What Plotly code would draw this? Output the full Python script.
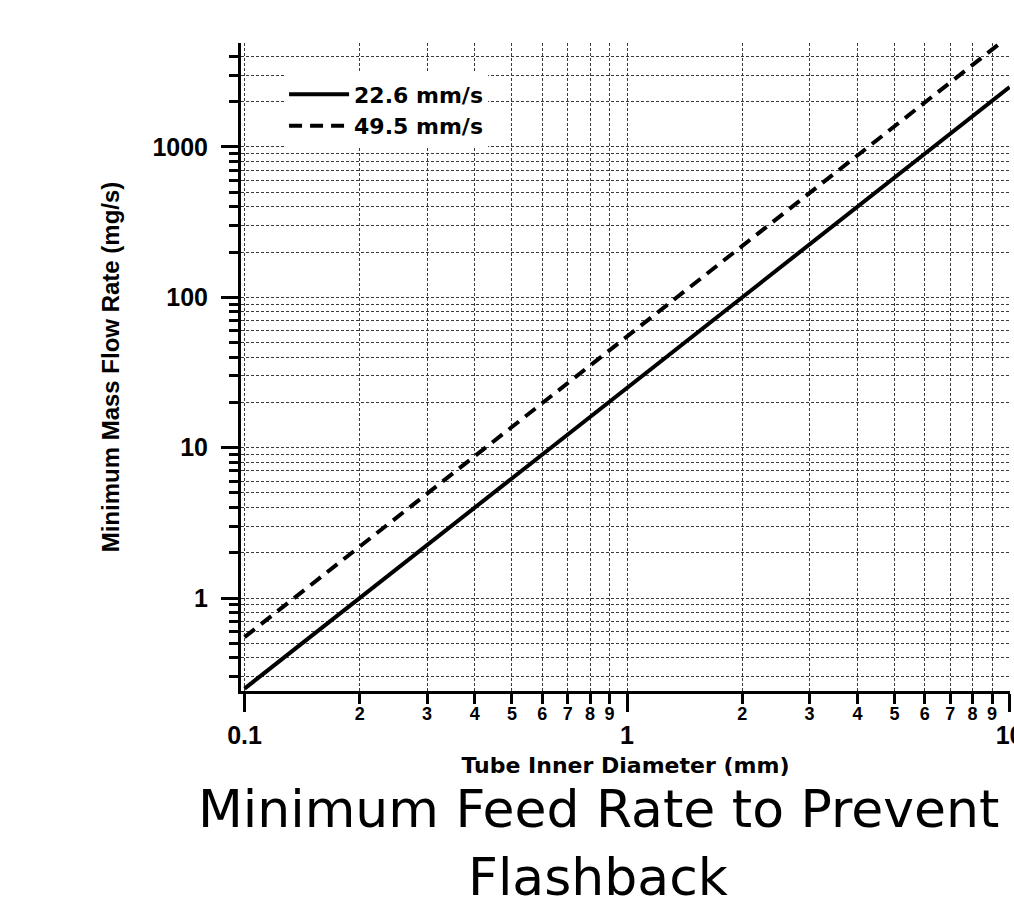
import math
import plotly.graph_objects as go

# ---- data ----
diameter_mm = [0.1, 0.2, 0.3, 0.5, 1, 2, 3, 5, 10]
flow_22_6 = [0.25, 1.0, 2.25, 6.25, 25, 100, 225, 625, 2500]
flow_49_5 = [0.55, 2.2, 4.9, 13.7, 55, 219, 493, 1370, 5480]
series_names = ["22.6 mm/s", "49.5 mm/s"]

x_major_ticks = [0.1, 1, 10]
x_major_labels = ["0.1", "1", "10"]
x_minor_ticks = [0.2, 0.3, 0.4, 0.5, 0.6, 0.7, 0.8, 0.9, 2, 3, 4, 5, 6, 7, 8, 9]
x_minor_labels = ["2", "3", "4", "5", "6", "7", "8", "9"] * 2
y_major_ticks = [1, 10, 100, 1000]
y_major_labels = ["1", "10", "100", "1000"]
y_minor_ticks = [0.3, 0.4, 0.5, 0.6, 0.7, 0.8, 0.9,
                 2, 3, 4, 5, 6, 7, 8, 9,
                 20, 30, 40, 50, 60, 70, 80, 90,
                 200, 300, 400, 500, 600, 700, 800, 900,
                 2000, 3000, 4000, 5000]

x_title = "Tube Inner Diameter (mm)"
y_title = "Minimum Mass Flow Rate (mg/s)"
chart_title_lines = ["Minimum Feed Rate to Prevent", "Flashback"]

# ---- styling ----
x_range = [math.log10(0.1) - 0.0092, math.log10(10) + 0.001]
y_range = [math.log10(0.241), 3.691]
GRID = dict(showgrid=True, gridcolor="#3a3a3a", gridwidth=1, griddash="3px,2px")
TICKF = dict(family="Liberation Sans", size=25, color="black", weight="bold")

fig = go.Figure()
fig.add_trace(go.Scatter(
    x=diameter_mm, y=flow_22_6, name=series_names[0], mode="lines",
    line=dict(color="black", width=4), xaxis="x", yaxis="y"))
fig.add_trace(go.Scatter(
    x=diameter_mm, y=flow_49_5, name=series_names[1], mode="lines",
    line=dict(color="black", width=4, dash="13px,8px"), xaxis="x2", yaxis="y"))

fig.update_layout(
    width=1014, height=914,
    margin=dict(l=241, r=4, t=43, b=223),
    paper_bgcolor="white", plot_bgcolor="white",
    showlegend=True,
    legend=dict(x=0.056, y=0.953, xanchor="left", yanchor="top",
                bgcolor="white", borderwidth=0, itemwidth=60,
                font=dict(family="DejaVu Sans", size=22, color="black", weight="bold"),
                tracegroupgap=0),
    xaxis=dict(
        type="log", range=x_range, automargin=False,
        tickmode="array", tickvals=x_major_ticks, ticktext=x_major_labels,
        ticks="outside", ticklen=18, tickwidth=3, tickcolor="black",
        tickfont=TICKF, ticklabelstandoff=2, ticklabeloverflow="allow",
        showline=True, linewidth=3, linecolor="black", zeroline=False,
        minor=dict(tickmode="array", tickvals=x_minor_ticks, ticks="outside",
                   ticklen=10, tickwidth=3, tickcolor="black", **GRID),
        title=dict(text=x_title, standoff=10,
                   font=dict(family="DejaVu Sans", size=22, color="black", weight="bold")),
        **GRID),
    xaxis2=dict(
        type="log", range=x_range, overlaying="x", anchor="y", side="bottom",
        automargin=False, tickmode="array", tickvals=x_minor_ticks,
        ticktext=x_minor_labels, ticks="", showgrid=False, showline=False,
        zeroline=False, ticklabelstandoff=10, ticklabeloverflow="allow",
        tickfont=dict(family="Liberation Sans", size=18, color="black", weight="bold")),
    yaxis=dict(
        type="log", range=y_range, automargin=False,
        tickmode="array", tickvals=y_major_ticks, ticktext=y_major_labels,
        ticks="outside", ticklen=17, tickwidth=3, tickcolor="black",
        tickfont=TICKF, ticklabelstandoff=8,
        showline=True, linewidth=3, linecolor="black", zeroline=False,
        minor=dict(tickmode="array", tickvals=y_minor_ticks, ticks="outside",
                   ticklen=9, tickwidth=3, tickcolor="black", **GRID),
        title=dict(text=y_title, standoff=26,
                   font=dict(family="Liberation Sans", size=24, color="black", weight="bold")),
        **GRID),
)

title_font = dict(family="DejaVu Sans", size=52, color="black")
fig.add_annotation(text=chart_title_lines[0], xref="paper", yref="paper",
                   x=(598 - 241) / 769, y=(691 - 809) / 648, xanchor="center",
                   yanchor="middle", showarrow=False, font=title_font)
fig.add_annotation(text=chart_title_lines[1], xref="paper", yref="paper",
                   x=(598 - 241) / 769, y=(691 - 877) / 648, xanchor="center",
                   yanchor="middle", showarrow=False, font=title_font)

fig.write_html("out.html")
